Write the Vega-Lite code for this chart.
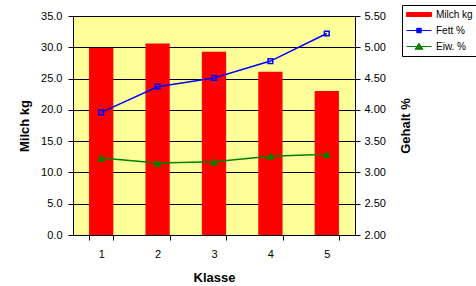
{
  "$schema": "https://vega.github.io/schema/vega-lite/v6.json",
  "width": 282,
  "height": 219,
  "autosize": "none",
  "padding": {"left": 73, "top": 16, "right": 121, "bottom": 51},
  "background": "white",
  "config": {
    "font": "Liberation Sans",
    "view": {"fill": "#FFFF99", "stroke": "#808080", "strokeWidth": 1},
    "axis": {
      "labelFont": "Liberation Sans", "labelFontSize": 11, "labelColor": "black",
      "titleFont": "Liberation Sans", "titleFontSize": 13, "titleFontWeight": "bold", "titleColor": "black",
      "domainColor": "black", "domainWidth": 1, "tickColor": "black", "tickSize": 5, "tickWidth": 1,
      "gridColor": "black", "gridOpacity": 1, "gridWidth": 1, "labelOverlap": false
    },
    "legend": {
      "labelFont": "Liberation Sans", "labelFontSize": 10, "labelColor": "black"
    }
  },
  "data": {
    "values": [
      {"Klasse": "1", "series": "Milch kg", "value": 29.9},
      {"Klasse": "2", "series": "Milch kg", "value": 30.6},
      {"Klasse": "3", "series": "Milch kg", "value": 29.3},
      {"Klasse": "4", "series": "Milch kg", "value": 26.1},
      {"Klasse": "5", "series": "Milch kg", "value": 23.0},
      {"Klasse": "1", "series": "Fett %", "value": 3.96},
      {"Klasse": "2", "series": "Fett %", "value": 4.37},
      {"Klasse": "3", "series": "Fett %", "value": 4.51},
      {"Klasse": "4", "series": "Fett %", "value": 4.78},
      {"Klasse": "5", "series": "Fett %", "value": 5.22},
      {"Klasse": "1", "series": "Eiw. %", "value": 3.23},
      {"Klasse": "2", "series": "Eiw. %", "value": 3.15},
      {"Klasse": "3", "series": "Eiw. %", "value": 3.17},
      {"Klasse": "4", "series": "Eiw. %", "value": 3.26},
      {"Klasse": "5", "series": "Eiw. %", "value": 3.29}
    ]
  },
  "layer": [
    {
      "transform": [{"filter": "datum.series === 'Milch kg'"}],
      "mark": {"type": "bar", "color": "#FF0000"},
      "encoding": {
        "x": {
          "field": "Klasse", "type": "ordinal",
          "scale": {"paddingInner": 0.57, "paddingOuter": 0.285},
          "axis": {"title": "Klasse", "labelAngle": 0, "tickBand": "extent", "grid": false, "labelPadding": 8, "titlePadding": 12}
        },
        "y": {
          "field": "value", "type": "quantitative",
          "scale": {"domain": [0, 35], "nice": false, "zero": false},
          "axis": {"title": "Milch kg", "values": [0, 5, 10, 15, 20, 25, 30, 35], "format": ".1f", "grid": true, "labelPadding": 6, "titlePadding": 9}
        }
      }
    },
    {
      "encoding": {
        "x": {"field": "Klasse", "type": "ordinal"},
        "y": {
          "field": "value", "type": "quantitative",
          "scale": {"domain": [2, 5.5], "nice": false, "zero": false},
          "axis": {"title": "Gehalt %", "orient": "right", "values": [2, 2.5, 3, 3.5, 4, 4.5, 5, 5.5], "format": ".2f", "grid": false, "labelPadding": 4, "titlePadding": 14, "titleAngle": 270, "titleBaseline": "top"}
        }
      },
      "layer": [
        {
          "transform": [{"filter": "datum.series !== 'Milch kg'"}],
          "mark": {"type": "line", "strokeWidth": 1.5},
          "encoding": {
            "detail": {"field": "series", "type": "nominal"},
            "stroke": {
              "field": "series", "type": "nominal",
              "scale": {"domain": ["Fett %", "Eiw. %"], "range": ["#0000FF", "#008000"]},
              "legend": null
            }
          }
        },
        {
          "transform": [{"filter": "datum.series === 'Fett %'"}],
          "mark": {"type": "point", "shape": "square", "filled": false, "size": 22, "strokeWidth": 1.5, "color": "#0000FF", "opacity": 1}
        },
        {
          "transform": [{"filter": "datum.series === 'Eiw. %'"}],
          "mark": {"type": "point", "shape": "triangle-up", "filled": true, "size": 70, "color": "#008000", "opacity": 1}
        },
        {
          "transform": [{"filter": "datum.Klasse === '1'"}],
          "mark": {"type": "point", "filled": true, "opacity": 0},
          "encoding": {
            "color": {
              "field": "series", "type": "nominal",
              "scale": {"domain": ["Milch kg", "Fett %", "Eiw. %"], "range": ["#FF0000", "#0000FF", "#008000"]},
              "legend": {
                "title": null, "orient": "none", "legendX": 329, "legendY": -11,
                "strokeColor": "black", "fillColor": "white", "padding": 4,
                "symbolSize": 100, "labelOffset": 19, "rowPadding": 5, "symbolStrokeWidth": 1,
                "symbolOpacity": 1,
                "encode": {"symbols": {"update": {"stroke": {"scale": "color", "field": "value"}, "strokeWidth": {"value": 1}, "opacity": {"value": 1}}}}
              }
            },
            "shape": {
              "field": "series", "type": "nominal",
              "scale": {
                "domain": ["Milch kg", "Fett %", "Eiw. %"],
                "range": [
                  "M-1,-0.4H4V0.4H-1Z",
                  "M-1,0H4M1.05,-0.45H1.95V0.45H1.05Z",
                  "M-1,0H4M0.7,0.55L1.5,-0.65L2.3,0.55Z"
                ]
              },
              "legend": {
                "title": null, "orient": "none", "legendX": 329, "legendY": -11,
                "strokeColor": "black", "fillColor": "white", "padding": 4,
                "symbolSize": 100, "labelOffset": 19, "rowPadding": 5, "symbolStrokeWidth": 1,
                "symbolOpacity": 1
              }
            }
          }
        }
      ]
    }
  ],
  "resolve": {"scale": {"y": "independent"}}
}
